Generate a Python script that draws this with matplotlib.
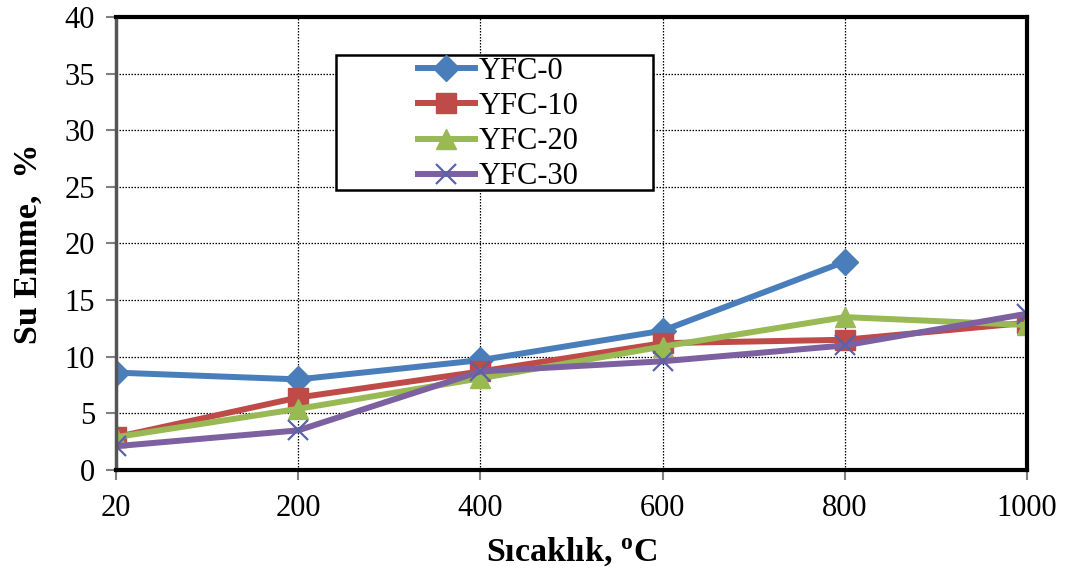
import matplotlib.pyplot as plt
from matplotlib.patches import Rectangle
import numpy as np

plt.rcParams['font.family'] = ['Liberation Serif', 'DejaVu Serif']

temps = ['20', '200', '400', '600', '800', '1000']
yfc0 = [8.6, 8.0, 9.7, 12.3, 18.4]
yfc10 = [2.9, 6.4, 8.7, 11.2, 11.5, 13.0]
yfc20 = [2.9, 5.4, 8.1, 10.9, 13.5, 12.8]
yfc30 = [2.1, 3.5, 8.7, 9.6, 11.0, 13.8]

x = np.arange(len(temps))
W, H = 1065, 579

fig = plt.figure(figsize=(W / 100, H / 100), dpi=100)
ax = fig.add_axes([116 / W, 1 - 470 / H, (1027 - 116) / W, (470 - 17) / H])

ax.plot(x[:len(yfc0)], yfc0, color='#4A7EBB', lw=4.3, marker='D', ms=13,
        label='YFC-0')
ax.plot(x, yfc10, color='#BE4B48', lw=4.3, marker='s', ms=14,
        label='YFC-10')
ax.plot(x, yfc20, color='#98B954', lw=4.3, marker='^', ms=15,
        label='YFC-20')
ax.plot(x, yfc30, color='#7D60A0', lw=4.3, marker='x', ms=14, mew=1.6,
        mec='#5a62a8', label='YFC-30')

ax.set_xlim(0, len(temps) - 1)
ax.set_ylim(0, 40)
ax.set_xticks(x)
ax.set_xticklabels(temps)
ax.set_yticks(range(0, 41, 5))
ax.tick_params(labelsize=22, colors='#808080', labelcolor='black',
               length=7, width=1.5)
ax.tick_params(axis='x', pad=10)
ax.tick_params(axis='y', pad=8)

ax.grid(True, color='black', ls=(0, (1.2, 1.2)), lw=0.9)
ax.set_axisbelow(True)

for side in ['top', 'right', 'bottom']:
    ax.spines[side].set_linewidth(3)
    ax.spines[side].set_color('black')
ax.spines['left'].set_linewidth(2.5)
ax.spines['left'].set_color('#555555')

ax.set_xlabel('Sıcaklık, $\\mathregular{^o}$C', fontsize=24.5, fontweight='bold',
              labelpad=9)
ax.set_ylabel('Su Emme,  %', fontsize=24.5, fontweight='bold', labelpad=15)

# legend box drawn separately so the entries can sit off-centre inside it
box = Rectangle((336 / W, 1 - 190 / H), 317 / W, 135 / H,
                transform=fig.transFigure, facecolor='white',
                edgecolor='black', lw=1.8, zorder=4)
fig.patches.append(box)
leg = fig.legend(*ax.get_legend_handles_labels(), loc='upper left',
                 bbox_to_anchor=(418 / W, 1 - 57 / H), fontsize=22,
                 frameon=False, handlelength=1.85, handletextpad=0.12,
                 borderpad=0, labelspacing=0.2, borderaxespad=0)
leg.set_zorder(5)

fig.savefig('out.png', dpi=100)
